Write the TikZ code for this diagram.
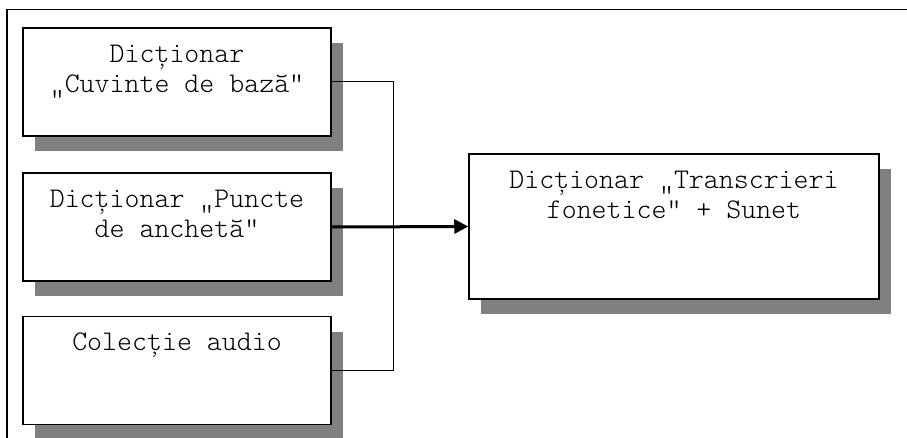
\documentclass[tikz,border=0pt]{standalone}
\usepackage{fontspec}
\newfontfamily\cour{Latin Modern Mono Light}
\usetikzlibrary{shadows,arrows.meta}
\begin{document}
\begin{tikzpicture}[x=1pt,y=-1pt,
  box/.style={draw=black, line width=1.5pt, fill=white, inner sep=0pt,
    minimum width=308pt, minimum height=108pt,
    drop shadow={shadow xshift=12pt, shadow yshift=-15pt, fill=black!50, opacity=1}},
  txt/.style={font=\cour\fontsize{28.5}{30}\selectfont, align=center, inner sep=0pt, anchor=north},
  link/.style={draw=black, line width=1pt},
  feed/.style={draw=black, line width=3pt, -{Triangle[length=14pt,width=14pt]}}]
\useasboundingbox (0,0) rectangle (907,438);
% outer frame (partly outside the page)
\draw[line width=1.5pt] (7,450) -- (7,9.5) -- (920,9.5);
% boxes
\node[box] (b1) at (177,82) {};
\node[box] (b2) at (177,227) {};
\node[box] (b3) at (177,370.5) {};
\node[box, minimum width=410pt, minimum height=145pt] (r) at (674,226.5) {};
% texts
\node[txt] (t1) at ([yshift=-18pt]b1.north) {Dicționar\\„Cuvinte de bază”};
\node[txt] (t2) at ([yshift=-18pt]b2.north) {Dicționar „Puncte\\de anchetă”};
\node[txt] (t3) at ([yshift=-17pt]b3.north) {Colecție audio};
\node[txt] (tr) at ([yshift=-18pt]r.north) {Dicționar „Transcrieri\\fonetice” + Sunet};
% connectors
\coordinate (bus) at (393,0);
\draw[link] (b1.east) -| (bus |- b3.east) -- (b3.east);
\draw[feed] (b2.east) -- (r.west);
\end{tikzpicture}
\end{document}
